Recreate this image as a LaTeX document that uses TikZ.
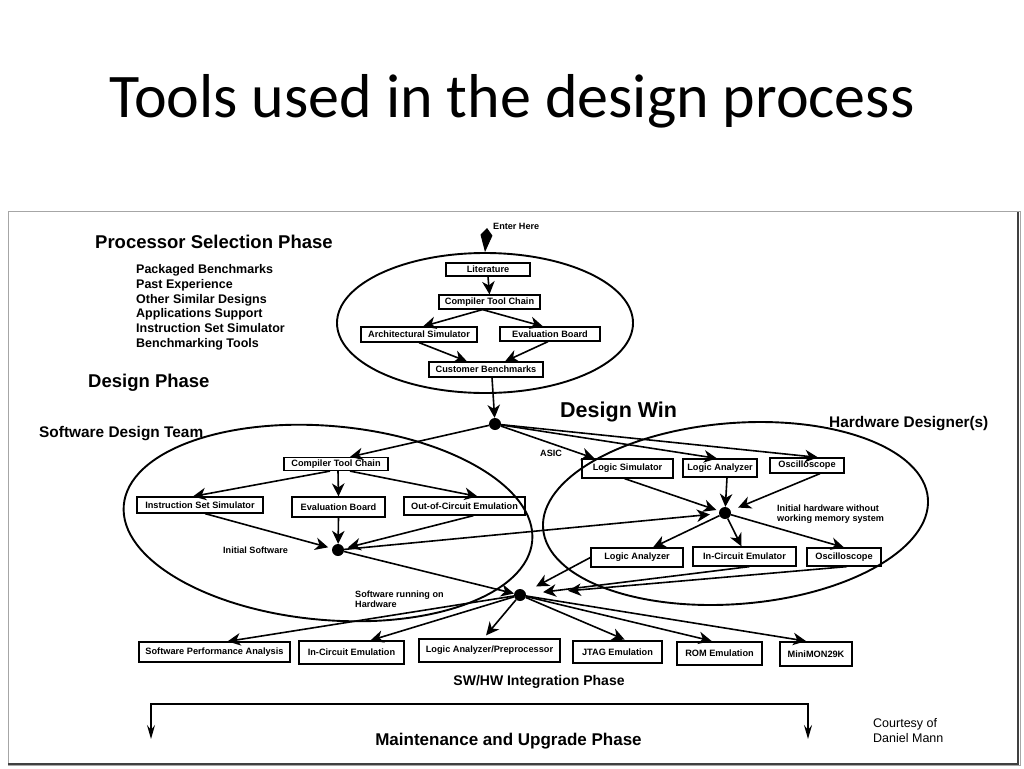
\documentclass[tikz,border=0pt]{standalone}
\usepackage{fontspec}
\setmainfont{Liberation Sans}
\newfontfamily\titlefont{Carlito}
\usetikzlibrary{arrows.meta,shapes.geometric,calc}
\newcommand\bxf{\fontsize{9.2}{10}\selectfont\bfseries}
\newcommand\lblf{\fontsize{9.1}{10}\selectfont\bfseries}
\begin{document}
\begin{tikzpicture}[x=1pt,y=-1pt,
  box/.style={draw,line width=1.2pt,inner sep=0pt,font=\bxf,text=black},
  arr/.style={line width=1.6pt,-{Stealth[length=13pt,width=12.5pt,inset=4pt]}},
  blob/.style={circle,fill=black,inner sep=0pt,minimum size=12pt},
  ell/.style={draw,ellipse,line width=1.9pt,inner sep=0pt},
  lbl/.style={anchor=base west,inner sep=0pt,font=\lblf},
  head/.style={anchor=base west,inner sep=0pt,font=\fontsize{18.5}{20}\selectfont\bfseries},
  sub/.style={anchor=base west,inner sep=0pt,font=\fontsize{15.4}{17}\selectfont\bfseries},
  item/.style={anchor=base west,inner sep=0pt,font=\fontsize{12.5}{14}\selectfont\bfseries}]
\useasboundingbox (0,0) rectangle (1024,768);
\fill[white] (0,0) rectangle (1024,768);
% title
\node[anchor=base,inner sep=0pt,font=\titlefont\fontsize{62}{70}\selectfont] (title) at (512,117) {Tools used in the design process};
% frame
\draw[line width=0.8pt,black!35] (8,211) rectangle (1020,765);
\draw[line width=2pt,black!75] (1018,212) -- (1018,765);
\draw[line width=2pt,black!75] (8,764) -- (1019,764);

% left texts
\node[head] (pst) at (95,248) {Processor Selection Phase};
\node[item] (i1) at (136,273.5) {Packaged Benchmarks};
\node[item] (i2) at (136,288.3) {Past Experience};
\node[item] (i3) at (136,303.1) {Other Similar Designs};
\node[item] (i4) at (136,317.9) {Applications Support};
\node[item] (i5) at (136,332.7) {Instruction Set Simulator};
\node[item] (i6) at (136,347.5) {Benchmarking Tools};
\node[head] (dph) at (88,387) {Design Phase};
\node[sub] (sdt) at (39,437) {Software Design Team};
\node[sub] (hwd) at (829,427) {Hardware Designer(s)};
\node[anchor=base west,inner sep=0pt,font=\fontsize{21.5}{23}\selectfont\bfseries] (dwin) at (560,417) {Design Win};

% processor selection ellipse
\node[ell,minimum width=296pt,minimum height=140pt] (psel) at (485,323) {};
\node[lbl] (enterlbl) at (493,229) {Enter Here};
\coordinate (enter) at (487,229);
\draw[line width=1pt,-{Kite[length=24pt,width=12pt,inset=7pt]}] (enter) -- (psel.north);
\node[box,minimum width=84pt,minimum height=13pt] (lit) at (488,269.5) {Literature};
\node[box,minimum width=101pt,minimum height=14pt] (ctc1) at (489.5,302) {Compiler Tool Chain};
\node[box,minimum width=116pt,minimum height=15pt] (arch) at (419,334.5) {Architectural Simulator};
\node[box,minimum width=100pt,minimum height=14pt] (eval1) at (550,334) {Evaluation Board};
\node[box,minimum width=114pt,minimum height=15pt] (cust) at (486,369.5) {Customer Benchmarks};
\node[blob] (dw) at (495,424) {};
\draw[arr] (lit.south) -- (ctc1.north);
\draw[arr] ([xshift=-7pt]ctc1.south) -- ([xshift=4pt]arch.north);
\draw[arr] ([xshift=-7pt]ctc1.south) -- ([xshift=-7pt]eval1.north);
\draw[arr] (arch.south) -- ([xshift=-19pt]cust.north);
\draw[arr] ([xshift=-2pt]eval1.south) -- ([xshift=19pt]cust.north);
\draw[arr] ([xshift=6pt]cust.south) -- (dw);

% software ellipse
\node[ell,minimum width=410pt,minimum height=194pt,rotate=-5] (swell) at (328,523) {};
\node[box,minimum width=104pt,minimum height=13pt] (ctc2) at (336,464) {Compiler Tool Chain};
\node[box,minimum width=126pt,minimum height=16pt] (iss) at (200,505) {Instruction Set Simulator};
\node[box,minimum width=93pt,minimum height=20pt] (eval2) at (338.5,507) {Evaluation Board};
\node[box,minimum width=121pt,minimum height=18pt] (oce) at (464.5,506) {Out-of-Circuit Emulation};
\node[blob] (isw) at (338,550) {};
\node[lbl] (iswlbl) at (223,553) {Initial Software};
\node[blob] (swr) at (520,595) {};
\node[lbl] (swrl1) at (355,597) {Software running on};
\node[lbl] (swrl2) at (355,607.5) {Hardware};

% hardware ellipse
\node[ell,minimum width=386pt,minimum height=181pt,rotate=4.5] (hwell) at (735.5,513.5) {};
\node[lbl] (asic) at (540,456) {ASIC};
\node[box,minimum width=91pt,minimum height=19pt] (ls) at (627.5,468.5) {Logic Simulator};
\node[box,minimum width=74pt,minimum height=18pt] (la1) at (720,468) {Logic Analyzer};
\node[box,minimum width=74pt,minimum height=15pt] (osc1) at (807,465.5) {Oscilloscope};
\node[blob] (ihw) at (725,513) {};
\node[lbl] (ihwl1) at (777,511) {Initial hardware without};
\node[lbl] (ihwl2) at (777,521.5) {working memory system};
\node[box,minimum width=92pt,minimum height=19pt] (la2) at (637,557.5) {Logic Analyzer};
\node[box,minimum width=103pt,minimum height=19pt] (ice) at (744.5,556.5) {In-Circuit Emulator};
\node[box,minimum width=74pt,minimum height=18pt] (osc2) at (844,557) {Oscilloscope};

% bottom row
\node[box,minimum width=151pt,minimum height=20pt] (spa) at (214.5,652) {Software Performance Analysis};
\node[box,minimum width=105pt,minimum height=23pt] (bice) at (351.5,652.5) {In-Circuit Emulation};
\node[box,minimum width=141pt,minimum height=23pt] (lap) at (489.5,650.5) {Logic Analyzer/Preprocessor};
\node[box,minimum width=89pt,minimum height=22pt] (jtag) at (617.5,652) {JTAG Emulation};
\node[box,minimum width=85pt,minimum height=23pt] (rom) at (719.5,653.5) {ROM Emulation};
\node[box,minimum width=72pt,minimum height=24pt] (mini) at (816,654) {MiniMON29K};
\node[anchor=base,inner sep=0pt,font=\fontsize{14}{16}\selectfont\bfseries] (swhw) at (539,685) {SW/HW Integration Phase};

% software arrows
\draw[arr] (dw) -- ([xshift=14pt]ctc2.north);
\draw[arr] ([xshift=-6pt]ctc2.south) -- ([xshift=-7pt]iss.north);
\draw[arr] ([xshift=2pt]ctc2.south) -- (eval2.north);
\draw[arr] ([xshift=14pt]ctc2.south) -- ([xshift=13pt]oce.north);
\draw[arr,shorten >=4pt] ([xshift=5pt]iss.south) -- (isw);
\draw[arr] (eval2.south) -- (isw);
\draw[arr,shorten >=4pt] ([xshift=9pt]oce.south) -- (isw);
\draw[arr,shorten >=9pt] (isw) -- (ihw);
\draw[arr] (isw) -- (swr);

% hardware arrows
\draw[arr] (dw) -- ([xshift=-33pt]ls.north);
\draw[arr] (dw) -- ([xshift=-3pt]la1.north);
\draw[arr] (dw) -- ([xshift=11pt]osc1.north);
\draw[arr,shorten >=3pt] ([xshift=-3pt]ls.south) -- (ihw);
\draw[arr] ([xshift=7pt]la1.south) -- (ihw);
\draw[arr,shorten >=8pt] ([xshift=13pt]osc1.south) -- (ihw);
\draw[arr] (ihw) -- ([xshift=16pt]la2.north);
\draw[arr] (ihw) -- ([xshift=-3pt]ice.north);
\draw[arr] (ihw) -- (osc2.north);
\draw[arr,shorten >=12pt] (la2.west) -- (swr);
\draw[arr,shorten >=17pt] ([xshift=5pt]ice.south) -- (swr);
\draw[arr,shorten >=42pt] ([xshift=3pt]osc2.south) -- (swr);

% integration arrows
\draw[arr] (swr) -- ([xshift=13pt]spa.north);
\draw[arr] (swr) -- ([xshift=19pt]bice.north);
\draw[arr,shorten >=4pt] (swr) -- ([xshift=-6pt]lap.north);
\draw[arr,shorten >=2pt] (swr) -- ([xshift=9pt]jtag.north);
\draw[arr,shorten >=2pt] (swr) -- ([xshift=-6pt]rom.north);
\draw[arr,shorten >=2pt] (swr) -- ([xshift=-8pt]mini.north);

% maintenance bracket
\coordinate (m1) at (151,739);
\coordinate (c1) at (151,704);
\coordinate (c2) at (808,704);
\coordinate (m2) at (808,739);
\draw[line width=1.8pt,{Stealth[length=14pt,width=8pt,inset=5pt]}-{Stealth[length=14pt,width=8pt,inset=5pt]}] (m1) -- (c1) -- (c2) -- (m2);
\node[anchor=base,inner sep=0pt,font=\fontsize{17}{19}\selectfont\bfseries] (maint) at (508.5,745) {Maintenance and Upgrade Phase};
\node[anchor=base west,inner sep=0pt,font=\fontsize{12.5}{14}\selectfont] (ct1) at (873,727) {Courtesy of};
\node[anchor=base west,inner sep=0pt,font=\fontsize{12.5}{14}\selectfont] (ct2) at (873,742) {Daniel Mann};
\end{tikzpicture}
\end{document}
